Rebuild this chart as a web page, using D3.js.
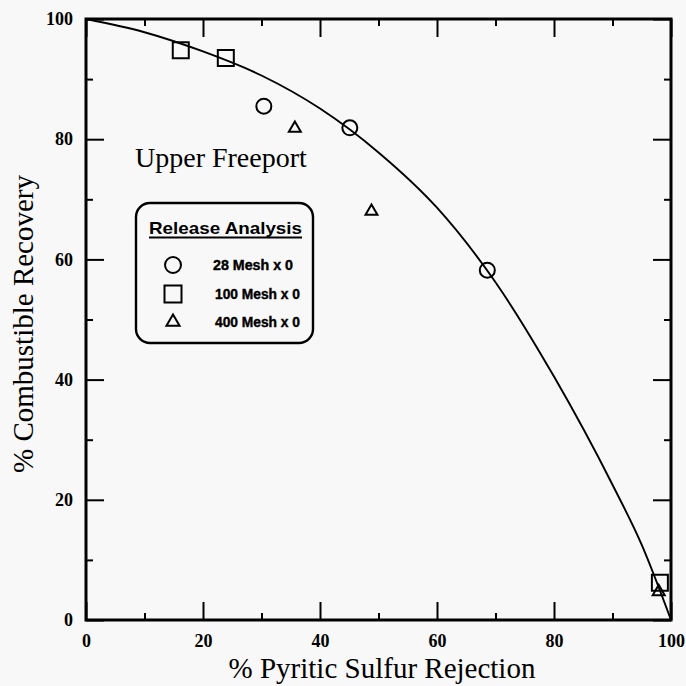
<!DOCTYPE html>
<html>
<head>
<meta charset="UTF-8">
<title>Upper Freeport</title>
<script src="https://d3js.org/d3.v7.min.js"></script>
<style>
  body { margin: 0; background: #f8f8f8; }
  svg { display: block; }
  .tick line { stroke: #000; stroke-width: 2; }
  .domain { display: none; }
</style>
</head>
<body>
<svg id="chart" width="686" height="686"></svg>
<script>

// release analysis points
var mesh28x  = [30.4, 45.1, 68.6];
var mesh28y  = [85.5, 81.9, 58.2];
var mesh100x = [16.2, 23.9, 98.1];
var mesh100y = [94.8, 93.5, 6.2];
var mesh400x = [35.7, 48.8, 97.9];
var mesh400y = [81.8, 68.0, 4.7];

// fitted curve
var fitX = [0, 10, 20, 30, 40, 50, 60, 70, 80, 90, 95, 100];
var fitY = [100, 97.8, 94.6, 90.6, 85.1, 77.8, 68.6, 56.2, 40.5, 22.5, 12.5, 0];

var majorTicks = [0, 20, 40, 60, 80, 100];
var minorTicks = [10, 30, 50, 70, 90];

var legendLabels = ["28 Mesh x 0", "100 Mesh x 0", "400 Mesh x 0"];
var legendShapes = ["circle", "square", "triangle"];

var svg = d3.select("#chart");

var x = d3.scaleLinear().domain([0, 100]).range([86, 671]);
var y = d3.scaleLinear().domain([0, 100]).range([620, 19]);

// ticks, all pointing inward
var xb = svg.append("g")
  .attr("transform", "translate(0,620)")
  .call(d3.axisBottom(x).tickValues(majorTicks).tickSize(-18).tickSizeOuter(0).tickPadding(14).tickFormat(d3.format("d")));
svg.append("g")
  .attr("transform", "translate(0,620)")
  .call(d3.axisBottom(x).tickValues(minorTicks).tickSize(-7).tickSizeOuter(0).tickFormat(""));
svg.append("g")
  .attr("transform", "translate(0,19)")
  .call(d3.axisTop(x).tickValues(majorTicks).tickSize(-18).tickSizeOuter(0).tickFormat(""));
svg.append("g")
  .attr("transform", "translate(0,19)")
  .call(d3.axisTop(x).tickValues(minorTicks).tickSize(-7).tickSizeOuter(0).tickFormat(""));

var yl = svg.append("g")
  .attr("transform", "translate(86,0)")
  .call(d3.axisLeft(y).tickValues(majorTicks).tickSize(-18).tickSizeOuter(0).tickPadding(13).tickFormat(d3.format("d")));
svg.append("g")
  .attr("transform", "translate(86,0)")
  .call(d3.axisLeft(y).tickValues(minorTicks).tickSize(-7).tickSizeOuter(0).tickFormat(""));
svg.append("g")
  .attr("transform", "translate(671,0)")
  .call(d3.axisRight(y).tickValues(majorTicks).tickSize(-18).tickSizeOuter(0).tickFormat(""));
svg.append("g")
  .attr("transform", "translate(671,0)")
  .call(d3.axisRight(y).tickValues(minorTicks).tickSize(-7).tickSizeOuter(0).tickFormat(""));

[xb, yl].forEach(function(g) {
  g.selectAll("text")
    .style("font-family", "Liberation Serif, serif")
    .style("font-weight", "bold")
    .style("font-size", "18px")
    .attr("fill", "#000");
});

// frame
svg.append("rect")
  .attr("x", x(0)).attr("y", y(100))
  .attr("width", x(100) - x(0)).attr("height", y(0) - y(100))
  .attr("fill", "none").attr("stroke", "#000").attr("stroke-width", 3);

// fit line
var fit = fitX.map(function(d, i) { return [d, fitY[i]]; });
svg.append("path")
  .datum(fit)
  .attr("fill", "none")
  .attr("stroke", "#000")
  .attr("stroke-width", 1.9)
  .attr("d", d3.line()
    .x(function(d) { return x(d[0]); })
    .y(function(d) { return y(d[1]); })
    .curve(d3.curveMonotoneX));

function shapePath(kind, big) {
  if (kind == "circle") return d3.symbol().type(d3.symbolCircle).size(big ? 200 : 177)();
  if (kind == "square") return d3.symbol().type(d3.symbolSquare).size(big ? 289 : 256)();
  return d3.symbol().type(d3.symbolTriangle).size(big ? 75 : 62)();
}

function drawPoints(xs, ys, kind) {
  svg.append("g").selectAll("path")
    .data(xs)
    .join("path")
      .attr("transform", function(d, i) { return "translate(" + x(d) + "," + y(ys[i]) + ")"; })
      .attr("d", shapePath(kind, false))
      .attr("fill", "none")
      .attr("stroke", "#000")
      .attr("stroke-width", 2);
}
drawPoints(mesh28x, mesh28y, "circle");
drawPoints(mesh100x, mesh100y, "square");
drawPoints(mesh400x, mesh400y, "triangle");

// axis titles
svg.append("text")
  .attr("x", 382).attr("y", 678)
  .attr("text-anchor", "middle")
  .style("font-family", "Liberation Serif, serif")
  .style("font-size", "29px")
  .text("% Pyritic Sulfur Rejection");

svg.append("text")
  .attr("transform", "translate(33,324) rotate(-90)")
  .attr("text-anchor", "middle")
  .style("font-family", "Liberation Serif, serif")
  .style("font-size", "29px")
  .text("% Combustible Recovery");

svg.append("text")
  .attr("x", 135).attr("y", 167)
  .style("font-family", "Liberation Serif, serif")
  .style("font-size", "28px")
  .text("Upper Freeport");

// legend
var legend = svg.append("g");
legend.append("rect")
  .attr("x", 136).attr("y", 203)
  .attr("width", 177).attr("height", 140)
  .attr("rx", 14)
  .attr("fill", "none").attr("stroke", "#000").attr("stroke-width", 2.4);

legend.append("text")
  .attr("x", 149).attr("y", 234)
  .attr("textLength", 153).attr("lengthAdjust", "spacingAndGlyphs")
  .style("font-family", "Liberation Sans, Arial, sans-serif")
  .style("font-weight", "bold")
  .style("font-size", "17px")
  .text("Release Analysis");
legend.append("line")
  .attr("x1", 149).attr("x2", 302)
  .attr("y1", 237.5).attr("y2", 237.5)
  .attr("stroke", "#000").attr("stroke-width", 2);

var rowY = [265, 294, 322];
legend.selectAll(".sym")
  .data(legendShapes)
  .join("path")
    .attr("class", "sym")
    .attr("transform", function(d, i) { return "translate(173," + rowY[i] + ")"; })
    .attr("d", function(d) { return shapePath(d, true); })
    .attr("fill", "none")
    .attr("stroke", "#000")
    .attr("stroke-width", 2);

legend.selectAll(".lab")
  .data(legendLabels)
  .join("text")
    .attr("class", "lab")
    .attr("x", function(d, i) { return i == 0 ? 213 : 215; })
    .attr("y", function(d, i) { return rowY[i] + 5; })
    .attr("textLength", function(d, i) { return i == 0 ? 80 : 85; })
    .attr("lengthAdjust", "spacingAndGlyphs")
    .style("font-family", "Liberation Sans, Arial, sans-serif")
    .style("font-weight", "bold")
    .style("font-size", "14px")
    .style("stroke", "#000")
    .style("stroke-width", "0.4px")
    .text(function(d) { return d; });

</script>
</body>
</html>
